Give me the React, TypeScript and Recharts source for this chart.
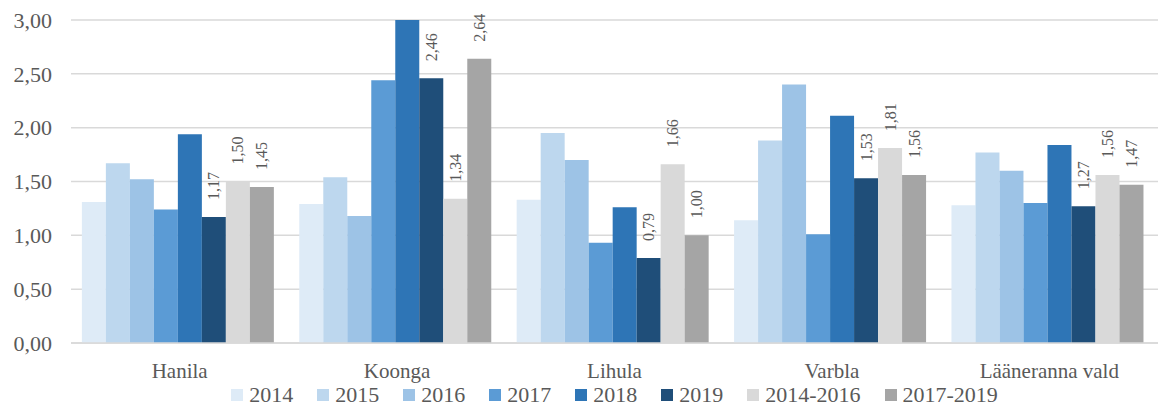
import { Bar, BarChart, CartesianGrid, LabelList, Legend, XAxis, YAxis } from "recharts";

const categories = ["Hanila", "Koonga", "Lihula", "Varbla", "Lääneranna vald"];
const seriesNames = ["2014", "2015", "2016", "2017", "2018", "2019", "2014-2016", "2017-2019"];
const seriesColors = ["#DEEBF7", "#BDD7EE", "#9DC3E6", "#5B9BD5", "#2E75B6", "#1F4E79", "#D9D9D9", "#A5A5A5"];

const v2014 = [1.31, 1.29, 1.33, 1.14, 1.28];
const v2015 = [1.67, 1.54, 1.95, 1.88, 1.77];
const v2016 = [1.52, 1.18, 1.7, 2.4, 1.6];
const v2017 = [1.24, 2.44, 0.93, 1.01, 1.3];
const v2018 = [1.94, 3.0, 1.26, 2.11, 1.84];
const v2019 = [1.17, 2.46, 0.79, 1.53, 1.27];
const v2014_2016 = [1.5, 1.34, 1.66, 1.81, 1.56];
const v2017_2019 = [1.45, 2.64, 1.0, 1.56, 1.47];

const yTicks = [0, 0.5, 1, 1.5, 2, 2.5, 3];
const labelled = ["2019", "2014-2016", "2017-2019"];

const allValues = [v2014, v2015, v2016, v2017, v2018, v2019, v2014_2016, v2017_2019];

const data = categories.map((name, i) => {
  const row: Record<string, string | number> = { name };
  seriesNames.forEach((s, j) => {
    row[s] = allValues[j][i];
  });
  return row;
});

const FONT = "'Liberation Serif', 'Times New Roman', serif";
const TEXT = "#595959";

const fmt = (v: number) => v.toFixed(2).replace(".", ",");

function RotLabel(props: any) {
  const { x, y, width, value } = props;
  const cx = x + width / 2;
  const cy = y - 17;
  return (
    <text
      x={cx}
      y={cy}
      transform={`rotate(-90 ${cx} ${cy})`}
      textAnchor="start"
      dominantBaseline="central"
      fontFamily={FONT}
      fontSize={16}
      fill={TEXT}
    >
      {fmt(Number(value))}
    </text>
  );
}

// legend centred on the plot area, not the whole chart
function LegendContent() {
  return (
    <div
      style={{
        display: "flex",
        justifyContent: "center",
        alignItems: "center",
        paddingLeft: 71,
        fontFamily: FONT,
        fontSize: 22,
        color: TEXT,
        lineHeight: "24px",
      }}
    >
      {seriesNames.map((s, i) => (
        <div key={s} style={{ display: "flex", alignItems: "center", marginRight: i < seriesNames.length - 1 ? 24 : 0 }}>
          <span style={{ width: 12, height: 12, background: seriesColors[i], display: "inline-block", marginRight: 6 }} />
          <span>{s}</span>
        </div>
      ))}
    </div>
  );
}

export default function App() {
  return (
    <div style={{ width: 1165, height: 407, background: "#fff" }}>
      <style>{`body{margin:0}`}</style>
      <BarChart
        width={1165}
        height={407}
        data={data}
        margin={{ top: 20, right: 7, bottom: 0, left: 0 }}
        barCategoryGap="5%"
        barGap={0}
      >
        <CartesianGrid vertical={false} stroke="#D9D9D9" strokeWidth={1.5} />
        <XAxis
          dataKey="name"
          height={40}
          tickLine={false}
          axisLine={{ stroke: "#D9D9D9", strokeWidth: 1.5 }}
          tickMargin={14}
          tick={{ fontFamily: FONT, fontSize: 21, fill: TEXT }}
        />
        <YAxis
          width={71}
          domain={[0, 3]}
          ticks={yTicks}
          tickFormatter={fmt}
          tickLine={false}
          axisLine={false}
          tickMargin={13}
          tick={{ fontFamily: FONT, fontSize: 22, fill: TEXT }}
        />
        <Legend verticalAlign="bottom" height={24} content={<LegendContent />} />
        {seriesNames.map((s, i) => (
          <Bar key={s} dataKey={s} fill={seriesColors[i]} isAnimationActive={false}>
            {labelled.includes(s) && <LabelList dataKey={s} content={<RotLabel />} />}
          </Bar>
        ))}
      </BarChart>
    </div>
  );
}
